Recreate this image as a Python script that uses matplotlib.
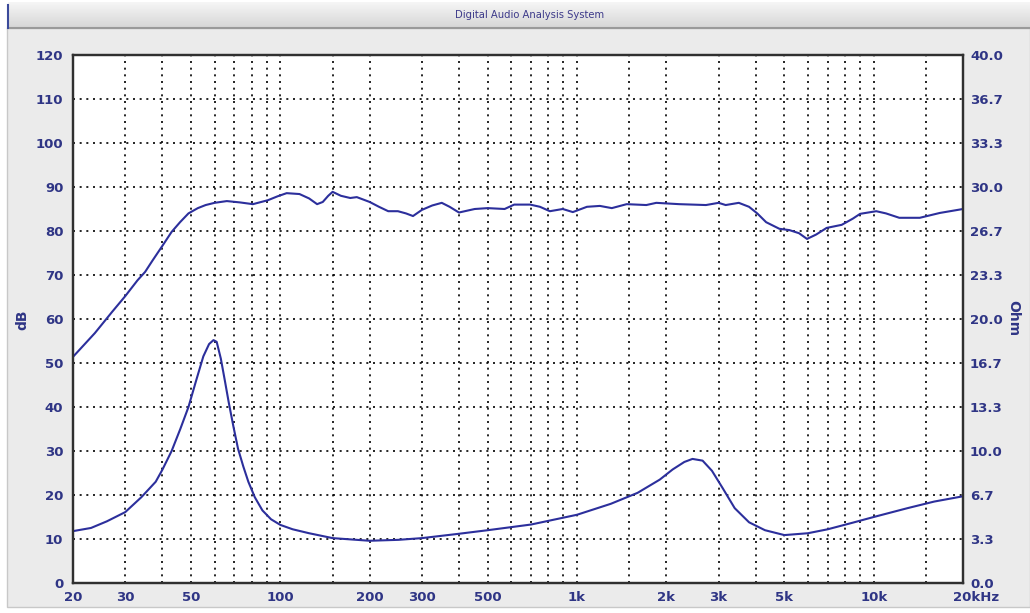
import numpy as np
import matplotlib
matplotlib.use("Agg")
import matplotlib.pyplot as plt
from matplotlib.patches import Rectangle
from matplotlib.lines import Line2D

# frequency response (dB)
spl_freq = [20, 23.7, 27, 30, 33, 35, 37, 40, 43, 45.9, 49, 52.7, 56, 60, 66, 73, 80.8,
            90.8, 98, 105, 116, 125, 133, 139, 145, 150, 160, 172, 181, 200, 215, 231,
            249, 265, 280, 300, 325, 350, 372, 400, 425, 452, 500, 570, 614, 695, 750,
            810, 895, 968, 1080, 1194, 1310, 1470, 1712, 1850, 2210, 2720, 3000, 3170,
            3510, 3800, 4050, 4340, 4810, 5200, 5600, 5960, 6400, 6940, 7800, 8500, 9000,
            10200, 11000, 12200, 14300, 16700, 20000]
spl_db = [51.4, 56.8, 61.5, 65.2, 68.8, 70.7, 73.2, 76.6, 79.8, 82.0, 84.0, 85.2, 85.9,
          86.4, 86.8, 86.5, 86.1, 87.0, 87.9, 88.6, 88.4, 87.4, 86.1, 86.6, 88.0, 88.9,
          88.0, 87.5, 87.7, 86.6, 85.5, 84.5, 84.5, 84.0, 83.4, 84.8, 85.8, 86.4, 85.5,
          84.2, 84.6, 85.0, 85.2, 85.0, 86.0, 86.0, 85.5, 84.5, 85.0, 84.3, 85.5, 85.7,
          85.2, 86.1, 85.9, 86.4, 86.1, 85.9, 86.4, 85.9, 86.4, 85.5, 84.0, 82.0, 80.5,
          80.2, 79.5, 78.2, 79.2, 80.7, 81.4, 82.8, 83.9, 84.5, 84.0, 83.0, 83.0, 84.1,
          85.0]

# impedance (Ohm)
imp_freq = [20, 23, 26, 30, 34, 38, 40, 43, 46, 49, 52, 55, 57.5, 59.5, 61, 63, 65, 67,
            69.5, 72, 75, 78, 82, 87, 93, 100, 110, 125, 150, 200, 250, 300, 400, 500,
            700, 1000, 1300, 1600, 1900, 2100, 2300, 2450, 2650, 2850, 3100, 3400, 3800,
            4300, 5000, 6000, 7000, 8500, 10000, 13000, 16000, 20000]
imp_ohm = [3.93, 4.17, 4.67, 5.37, 6.5, 7.67, 8.57, 10.0, 11.67, 13.33, 15.33, 17.17,
           18.1, 18.4, 18.27, 17.0, 15.33, 13.67, 11.83, 10.17, 8.83, 7.67, 6.5, 5.5,
           4.83, 4.4, 4.07, 3.77, 3.4, 3.2, 3.27, 3.4, 3.73, 4.0, 4.43, 5.17, 6.0, 6.83,
           7.83, 8.6, 9.17, 9.4, 9.27, 8.5, 7.17, 5.67, 4.6, 4.0, 3.63, 3.77, 4.07, 4.57,
           5.0, 5.67, 6.17, 6.57]

grid_freqs = [30, 40, 50, 60, 70, 80, 90, 100, 150, 200, 300, 400, 500, 600, 700, 800,
              900, 1000, 1500, 2000, 3000, 4000, 5000, 6000, 7000, 8000, 9000, 10000, 15000]
x_labels = {20: "20", 30: "30", 50: "50", 100: "100", 200: "200", 300: "300",
            500: "500", 1000: "1k", 2000: "2k", 3000: "3k", 5000: "5k", 10000: "10k"}
db_ticks = list(range(0, 121, 10))
ohm_ticks = [0, 10/3, 20/3, 10, 40/3, 50/3, 20, 70/3, 80/3, 30, 100/3, 110/3, 40]

W, H = 1030, 613
lab_col = "#2f3585"
line_col = "#2c2f9c"

fig = plt.figure(figsize=(W/100, H/100), dpi=100, facecolor="white")

# panel background
fig.patches.append(Rectangle((7/W, 6/H), (W-7)/W, (H-34)/H, transform=fig.transFigure,
                             facecolor="#ebebeb", edgecolor="#c8c8c8", lw=1, zorder=-2))
# title bar
tb = fig.add_axes([8/W, (H-28)/H, (W-8)/W, 26/H])
grad = np.linspace(0, 1, 50).reshape(-1, 1)
tb.imshow(grad, aspect="auto", cmap=matplotlib.colors.LinearSegmentedColormap.from_list(
    "tb", ["#f6f6f6", "#d6d6d6"]), extent=[0, 1, 0, 1])
tb.set_axis_off()
tb.text(0.51, 0.5, "Digital Audio Analysis System", ha="center", va="center",
        fontsize=8, color="#3d3a8a", fontstretch="condensed")
fig.lines.append(Line2D([8/W, 1], [(H-28)/H]*2, transform=fig.transFigure, color="#9a9a9a", lw=1.5))
fig.lines.append(Line2D([7.5/W]*2, [(H-28)/H, (H-5)/H], transform=fig.transFigure, color="#3b4a9a", lw=1.5))

ax = fig.add_axes([73/W, 30/H, 890/W, 528/H])
ax.set_facecolor("white")
ax.set_xscale("log")
ax.set_xlim(20, 20000)
ax.set_ylim(0, 120)

for f in grid_freqs:
    ax.axvline(f, color="black", lw=1.2, ls=(0, (1.2, 2.8)), zorder=1)
for d in db_ticks[1:-1]:
    ax.axhline(d, color="black", lw=1.2, ls=(0, (1.2, 2.8)), zorder=1)

ax.plot(spl_freq, spl_db, color=line_col, lw=1.5, zorder=3)
ax.plot(imp_freq, [v*3 for v in imp_ohm], color=line_col, lw=1.5, zorder=3)

ax.xaxis.set_minor_locator(matplotlib.ticker.NullLocator())
xt = sorted(x_labels)
ax.set_xticks(xt)
ax.set_xticklabels([x_labels[f] for f in xt])
ax.annotate("20kHz", xy=(20000, 0), xycoords="data", xytext=(-10, -8),
            textcoords="offset pixels", ha="left", va="top", fontsize=9.5,
            fontweight="bold", color=lab_col)
ax.set_yticks(db_ticks)
ax.tick_params(axis="both", length=0, labelsize=9.5, labelcolor=lab_col)
ax.tick_params(axis="x", pad=6)
ax.tick_params(axis="y", pad=7)
for t in ax.get_xticklabels() + ax.get_yticklabels():
    t.set_fontweight("bold")

ax2 = ax.twinx()
ax2.set_ylim(0, 40)
ax2.set_yticks(ohm_ticks)
ax2.set_yticklabels(["%.1f" % v for v in ohm_ticks])
ax2.tick_params(axis="y", length=0, labelsize=9.5, labelcolor=lab_col, pad=5)
for t in ax2.get_yticklabels():
    t.set_fontweight("bold")

for a in (ax, ax2):
    for s in a.spines.values():
        s.set_color("#303030")
        s.set_linewidth(1.6)

fig.text(22/W, 1 - 320/H, "dB", rotation=90, ha="center", va="center",
         fontsize=10, fontweight="bold", color=lab_col)
fig.text(1013/W, 1 - 318/H, "Ohm", rotation=270, ha="center", va="center",
         fontsize=10, fontweight="bold", color=lab_col)

fig.savefig("out.png", dpi=100, facecolor=fig.get_facecolor())
